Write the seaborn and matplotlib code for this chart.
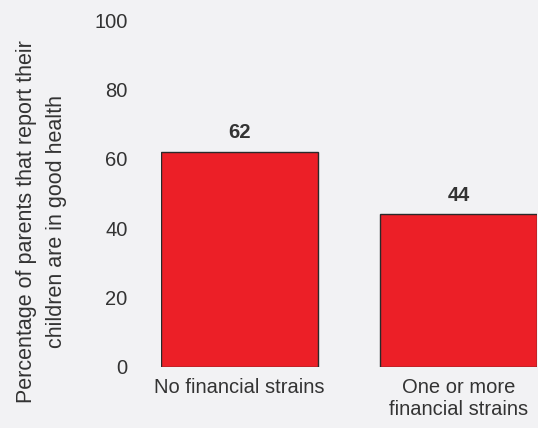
import matplotlib
matplotlib.use("Agg")
import matplotlib.pyplot as plt
import seaborn as sns
import pandas as pd

categories = ["No financial strains", "One or more\nfinancial strains"]
values = [62, 44]
value_labels = ["62", "44"]
y_ticks = [0, 20, 40, 60, 80, 100]
y_label = "Percentage of parents that report their\nchildren are in good health"

BG = "#f2f2f4"
BAR = "#ec1f27"
TXT = "#333333"

sns.set_theme(style="white")
plt.rcParams["font.family"] = ["Liberation Sans", "DejaVu Sans"]

fig = plt.figure(figsize=(5.38, 4.28), dpi=100, facecolor=BG)
ax = fig.add_axes([161 / 538, 61 / 428, 376 / 538, 347 / 428])
ax.set_facecolor(BG)

df = pd.DataFrame({"cat": categories, "val": values})
sns.barplot(data=df, x="cat", y="val", color=BAR, edgecolor="#2a2a2a",
            linewidth=1.0, width=0.717, saturation=1, ax=ax)

ax.set_xlim(-0.3585, 1.3585)
ax.set_ylim(0, 100)
ax.set_yticks(y_ticks)
ax.set_yticklabels([str(t) for t in y_ticks])

for i, (v, lab) in enumerate(zip(values, value_labels)):
    ax.annotate(lab, (i, v), xytext=(0, 7), textcoords="offset points",
                ha="center", va="bottom", fontsize=14.5, fontweight="bold",
                color=TXT)

for s in ax.spines.values():
    s.set_visible(False)
ax.tick_params(axis="y", length=0, pad=24, labelsize=14.5, labelcolor=TXT)
ax.tick_params(axis="x", length=0, pad=8, labelsize=14.5, labelcolor=TXT)
ax.set_xlabel("")
ax.set_ylabel(y_label, fontsize=15.5, color=TXT, linespacing=1.55)
ax.yaxis.set_label_coords(-0.25, 0.42)

fig.savefig("out.png", dpi=100, facecolor=BG)
